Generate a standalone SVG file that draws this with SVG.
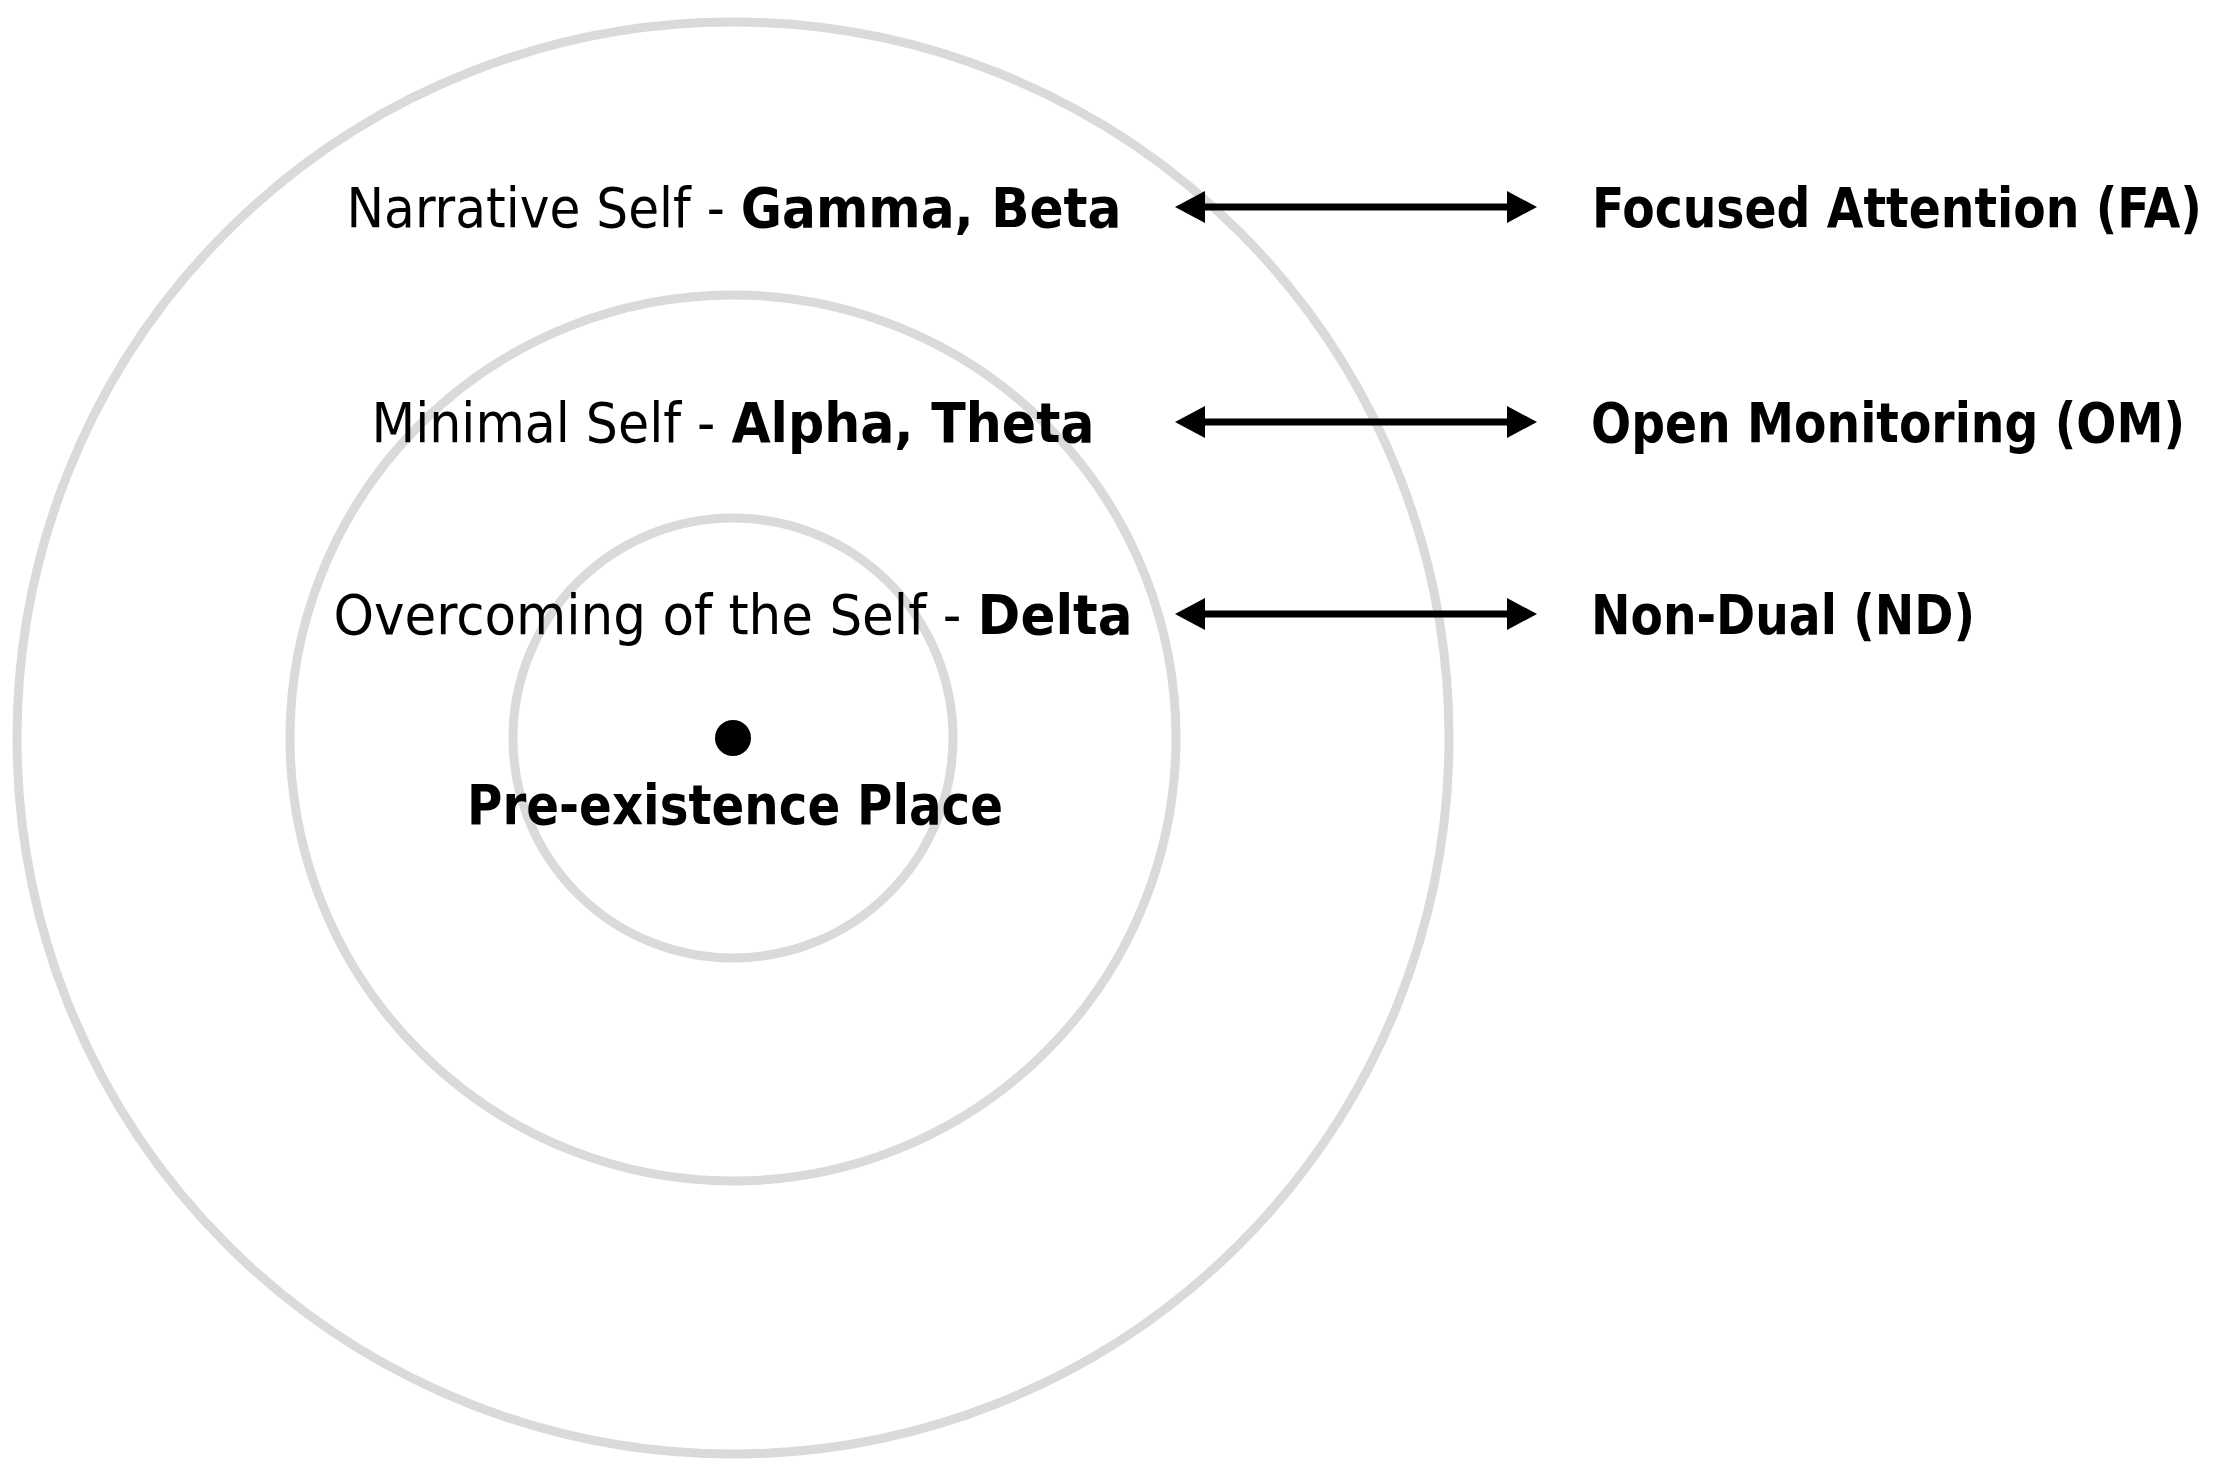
<svg xmlns="http://www.w3.org/2000/svg" width="2228" height="1482" viewBox="0 0 2228 1482">
  <style>
    .ring { fill: none; stroke: #dadada; stroke-width: 9; }
    .lbl { font-family: "DejaVu Sans Condensed", "DejaVu Sans", sans-serif; font-size: 56px; fill: #000; }
    .b { font-weight: bold; }
    .conn { stroke: #000; stroke-width: 7; fill: none; }
  </style>
  <defs>
    <marker id="head" markerUnits="userSpaceOnUse" markerWidth="32" markerHeight="34" viewBox="0 -17 32 34" refX="2" refY="0" orient="auto-start-reverse">
      <path d="M0,-16 L30,0 L0,16 Z" fill="#000"/>
    </marker>
  </defs>
  <rect width="2228" height="1482" fill="#fff"/>

  <g id="rings">
    <circle id="ring-outer" class="ring" cx="733" cy="738" r="716"/>
    <circle id="ring-middle" class="ring" cx="733" cy="738" r="443"/>
    <circle id="ring-inner" class="ring" cx="733" cy="738" r="220"/>
  </g>

  <g id="node-narrative">
    <text class="lbl" x="734" y="227" text-anchor="middle" textLength="775" lengthAdjust="spacingAndGlyphs">Narrative Self - <tspan class="b">Gamma, Beta</tspan></text>
  </g>
  <g id="node-minimal">
    <text class="lbl" x="733" y="442" text-anchor="middle" textLength="723" lengthAdjust="spacingAndGlyphs">Minimal Self - <tspan class="b">Alpha, Theta</tspan></text>
  </g>
  <g id="node-overcoming">
    <text class="lbl" x="733" y="634" text-anchor="middle" textLength="799" lengthAdjust="spacingAndGlyphs">Overcoming of the Self - <tspan class="b">Delta</tspan></text>
  </g>
  <g id="node-preexistence">
    <circle cx="733" cy="738" r="18" fill="#000"/>
    <text class="lbl b" x="735" y="824" text-anchor="middle" textLength="536" lengthAdjust="spacingAndGlyphs">Pre-existence Place</text>
  </g>

  <g id="node-fa">
    <text class="lbl b" x="0" y="0" transform="translate(1592 227) scale(0.84 1)" textLength="726" lengthAdjust="spacingAndGlyphs">Focused Attention (FA)</text>
  </g>
  <g id="node-om">
    <text class="lbl b" x="1591" y="442" textLength="594" lengthAdjust="spacingAndGlyphs">Open Monitoring (OM)</text>
  </g>
  <g id="node-nd">
    <text class="lbl b" x="1591" y="634" textLength="384" lengthAdjust="spacingAndGlyphs">Non-Dual (ND)</text>
  </g>

  <g id="connectors">
    <line class="conn" x1="1203" y1="207" x2="1509" y2="207" marker-start="url(#head)" marker-end="url(#head)"/>
    <line class="conn" x1="1203" y1="422" x2="1509" y2="422" marker-start="url(#head)" marker-end="url(#head)"/>
    <line class="conn" x1="1203" y1="614" x2="1509" y2="614" marker-start="url(#head)" marker-end="url(#head)"/>
  </g>
</svg>
